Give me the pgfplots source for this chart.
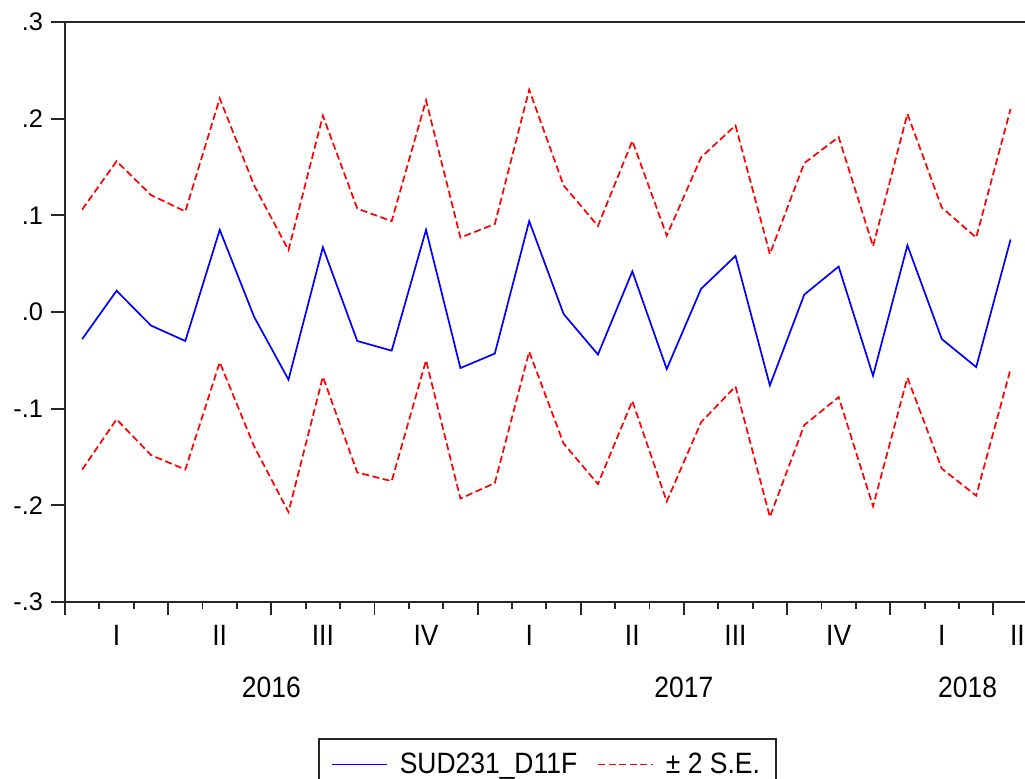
\documentclass[border=0pt]{standalone}
\usepackage{pgfplots}
\usepackage{pgfplotstable}
\pgfplotsset{compat=1.18}
\usepackage{fontspec}
\setmainfont{Liberation Sans}[FakeStretch=0.9]
\newfontfamily\yfont{Liberation Sans}
\definecolor{sered}{RGB}{255,0,0}
\definecolor{fcblue}{RGB}{0,0,255}
\pgfplotstableread{
x f up lo
1 -0.028 0.106 -0.163
2 0.022 0.156 -0.111
3 -0.014 0.121 -0.148
4 -0.030 0.104 -0.163
5 0.085 0.221 -0.052
6 -0.005 0.131 -0.139
7 -0.070 0.064 -0.207
8 0.067 0.203 -0.067
9 -0.030 0.107 -0.166
10 -0.040 0.094 -0.175
11 0.085 0.219 -0.050
12 -0.058 0.077 -0.193
13 -0.043 0.091 -0.177
14 0.094 0.230 -0.041
15 -0.002 0.131 -0.136
16 -0.044 0.089 -0.178
17 0.042 0.177 -0.092
18 -0.059 0.079 -0.196
19 0.024 0.160 -0.114
20 0.058 0.193 -0.077
21 -0.076 0.060 -0.212
22 0.018 0.154 -0.117
23 0.047 0.181 -0.088
24 -0.066 0.068 -0.201
25 0.069 0.205 -0.068
26 -0.028 0.108 -0.162
27 -0.057 0.077 -0.190
28 0.075 0.210 -0.059
}\data
\begin{document}
\begin{tikzpicture}
\begin{axis}[
  name=ax,
  scale only axis,
  width=480pt, height=290pt,
  xmin=0.5, xmax=28.42, ymin=-0.3, ymax=0.3,
  clip=false,
  axis x line*=box, axis y line*=left,
  axis line style={line width=1pt, color=black!85},
  tick align=outside,
  xtick pos=bottom, ytick pos=left,
  major tick length=6.75pt, minor tick length=3.5pt,
  tick style={line width=0.9pt, color=black!85},
  xtick={0.5,3.5,6.5,9.5,12.5,15.5,18.5,21.5,24.5,27.5},
  xticklabels={},
  minor xtick={1.5,2.5,4.5,5.5,7.5,8.5,10.5,11.5,13.5,14.5,16.5,17.5,19.5,20.5,22.5,23.5,25.5,26.5,28.5},
  extra x ticks={2,5,8,11,14,17,20,23,26,28.2},
  extra x tick labels={I,II,III,IV,I,II,III,IV,I,II},
  extra x tick style={major tick length=0pt, tick style={draw=none},
     xticklabel style={anchor=north, inner sep=0pt, yshift=-11.5pt,
       font=\fontsize{14.7}{17}\selectfont}},
  ytick={-0.3,-0.2,-0.1,0,0.1,0.2,0.3},
  yticklabels={-.3,-.2,-.1,.0,.1,.2,.3},
  yticklabel style={anchor=east, inner sep=0pt, xshift=-4pt,
     font=\yfont\fontsize{12.7}{15}\selectfont},
  legend columns=2,
  legend style={at={(0.5026,0)}, anchor=north, yshift=-68pt,
     draw=black!85, line width=0.75pt,
     font=\fontsize{14.7}{17}\selectfont,
     inner xsep=6pt, inner ysep=5pt,
     /tikz/every odd column/.append style={column sep=4pt},
     /tikz/every even column/.append style={column sep=8pt}},
  legend image code/.code={\draw[#1] (0pt,0pt) -- (27.5pt,0pt);},
]
\addplot[fcblue, line width=0.85pt] table[x=x, y=f] {\data};
\addlegendentry{SUD231\_D11F}
\addplot[sered, line width=0.85pt, dash pattern=on 3.5pt off 1.75pt] table[x=x, y=up] {\data};
\addlegendentry{± 2 S.E.}
\addplot[sered, line width=0.85pt, dash pattern=on 3.5pt off 1.75pt, forget plot] table[x=x, y=lo] {\data};
\node[font=\fontsize{14.7}{17}\selectfont, anchor=center] at (axis cs:6.5,-0.3) [yshift=-42.75pt] {2016};
\node[font=\fontsize{14.7}{17}\selectfont, anchor=center] at (axis cs:18.5,-0.3) [yshift=-42.75pt] {2017};
\node[font=\fontsize{14.7}{17}\selectfont, anchor=center] at (axis cs:26.75,-0.3) [yshift=-42.75pt] {2018};
\coordinate (SW) at (rel axis cs:0,0);
\coordinate (NE) at (rel axis cs:1,1);
\end{axis}
\pgfresetboundingbox
\path[use as bounding box] ([shift={(-32.5pt,-88.5pt)}]SW) rectangle ([shift={(0pt,11pt)}]NE);
\end{tikzpicture}
\end{document}
